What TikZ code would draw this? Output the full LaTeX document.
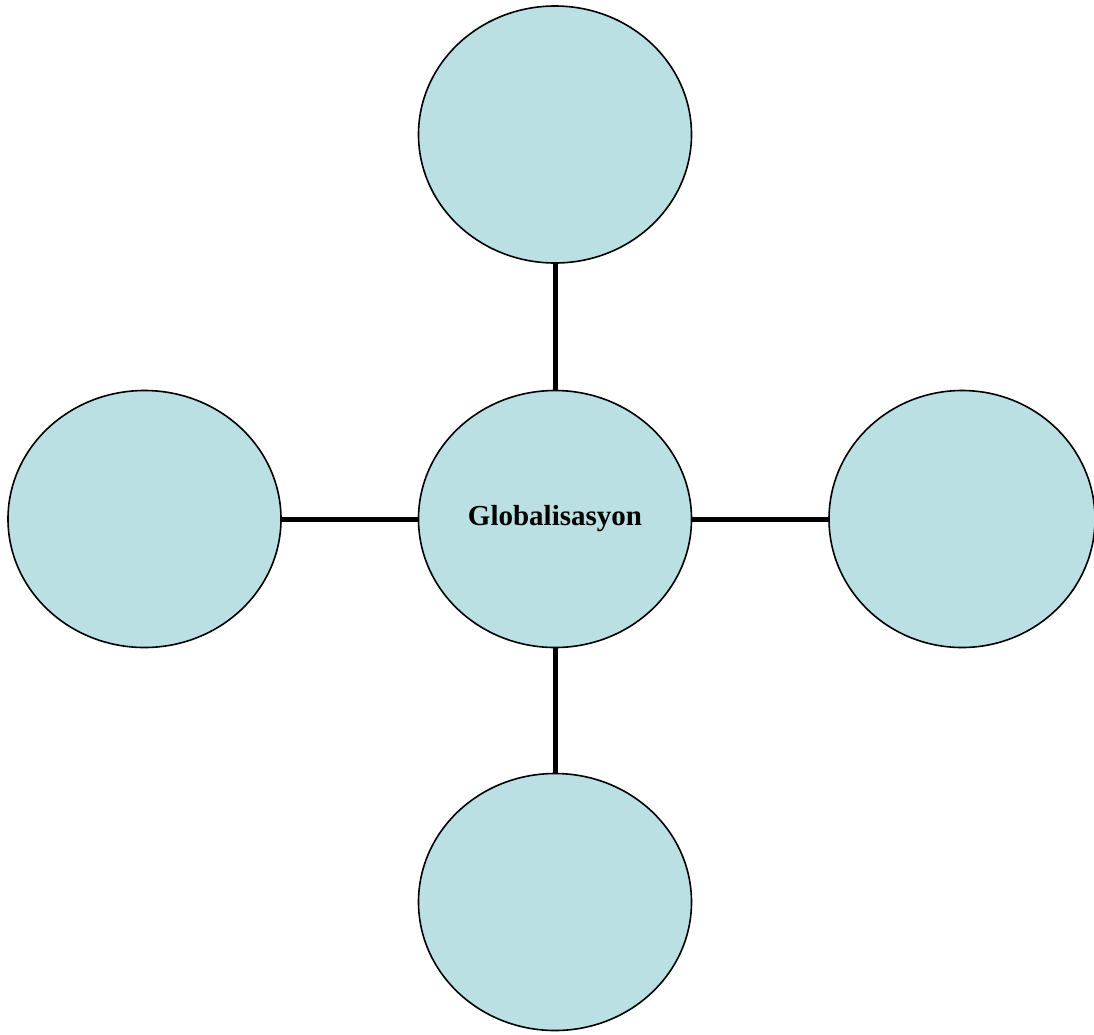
\documentclass[tikz,border=0pt]{standalone}
\usepackage{fontspec}
\setmainfont{Liberation Serif}
\usetikzlibrary{shapes.geometric}
\definecolor{bubblefill}{RGB}{187,224,227}
\tikzset{
  bubble/.style={ellipse, draw=black, line width=1.6pt, fill=bubblefill,
    minimum width=273pt, minimum height=257pt, inner sep=0pt},
  spoke/.style={line width=5pt, draw=black}
}
\begin{document}
\begin{tikzpicture}[x=1pt,y=-1pt]
\useasboundingbox (0,0) rectangle (1094,1034);
\node[bubble] (center) at (555,519) {\fontsize{29}{35}\selectfont\bfseries Globalisasyon};
\node[bubble] (top) at (555,134.5) {};
\node[bubble] (bottom) at (555,902) {};
\node[bubble] (left) at (144.5,519) {};
\node[bubble, minimum width=266pt] (right) at (962,519) {};
\draw[spoke] (top) -- (center);
\draw[spoke] (center) -- (bottom);
\draw[spoke] (left) -- (center);
\draw[spoke] (center) -- (right);
\end{tikzpicture}
\end{document}
